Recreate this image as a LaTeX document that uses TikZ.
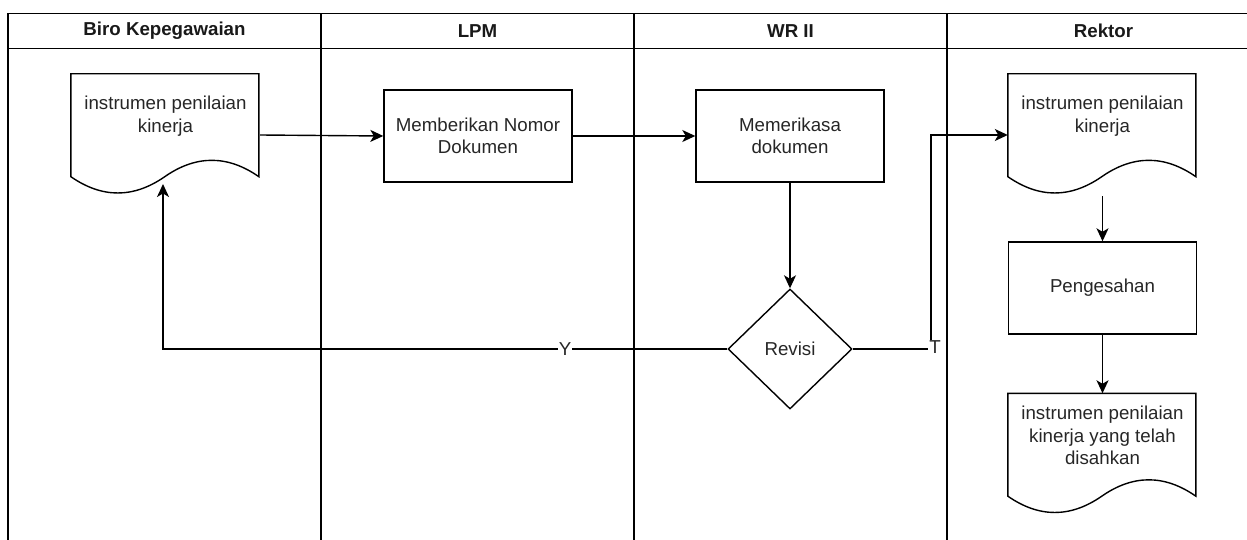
\documentclass[tikz,border=0pt]{standalone}
\usepackage{fontspec}
\setmainfont{Liberation Sans}
\usetikzlibrary{arrows.meta,shapes.geometric,calc}

% document symbol: frame node for connections, wavy outline, label in upper part
\newcommand{\docshape}[4]{%
  \node[docframe] (#1) at (#2,#3) {};
  \draw[shift={(#1.north west)}] (0,0) -- (188,0) -- (188,102.85)
    .. controls (156.67,81.07) and (125.33,81.07) .. (94,102.85)
    .. controls (62.67,124.63) and (31.33,124.63) .. (0,102.85) -- cycle;
  \node[lbl] (#1-text) at ($(#1.north)+(0,42.35)$) {#4};
}

\begin{document}
\begin{tikzpicture}[x=1pt,y=-1pt,
  line width=1.4pt,
  lbl/.style={font=\fontsize{18.7}{22.4}\selectfont, text=black!85, align=center, inner sep=0pt},
  hdr/.style={font=\fontsize{18.7}{22.4}\selectfont\bfseries, text=black!90, inner sep=0pt},
  procbox/.style={draw, lbl, minimum width=188pt, minimum height=92pt},
  docframe/.style={minimum width=188pt, minimum height=121pt, inner sep=0pt},
  decision/.style={diamond, draw, lbl, minimum width=124pt, minimum height=120pt},
  flow/.style={-{Stealth[length=13pt,width=12pt,inset=3.5pt]}},
  tag/.style={lbl, fill=white, inner sep=1pt}
]
\useasboundingbox (0,0) rectangle (1247,540);

% swimlane frame
\draw (8,540) -- (8,13.5) -- (1247,13.5);
\draw (8,48.5) -- (1247,48.5);
\draw (321,13.5) -- (321,540);
\draw (634,13.5) -- (634,540);
\draw (947,13.5) -- (947,540);

\node[hdr] (h1) at (164.5,31) {Biro Kepegawaian};
\node[hdr] (h2) at (477.5,31) {LPM};
\node[hdr] (h3) at (790.5,31) {WR II};
\node[hdr] (h4) at (1103.5,31) {Rektor};

% flow elements
\docshape{d1}{165.5}{135}{instrumen penilaian\\kinerja}
\node[procbox] (b1) at (478,136) {Memberikan Nomor\\Dokumen};
\node[procbox] (b2) at (790,136) {Memerikasa\\dokumen};
\node[decision] (r) at (790,349) {Revisi};
\docshape{d2}{1102.5}{135}{instrumen penilaian\\kinerja}
\node[procbox] (b3) at (1102.5,288) {Pengesahan};
\docshape{d3}{1102.5}{454.5}{instrumen penilaian\\kinerja yang telah\\disahkan}

\coordinate (d1in) at (163,184);
\coordinate (tbend) at (931,349);

% connectors
\draw[flow] (d1.east) -- (b1.west);
\draw[flow] (b1.east) -- (b2.west);
\draw[flow] (b2.south) -- (r.north);
\draw[flow] (r.west) -| (d1in);
\draw[flow] (r.east) -- (tbend) |- (d2.west);
\draw[flow] (d2.south) -- (b3.north);
\draw[flow] (b3.south) -- (d3.north);

\node[tag] (ylbl) at (565,349) {Y};
\node[tag] (tlbl) at (935,347) {T};
\end{tikzpicture}
\end{document}
